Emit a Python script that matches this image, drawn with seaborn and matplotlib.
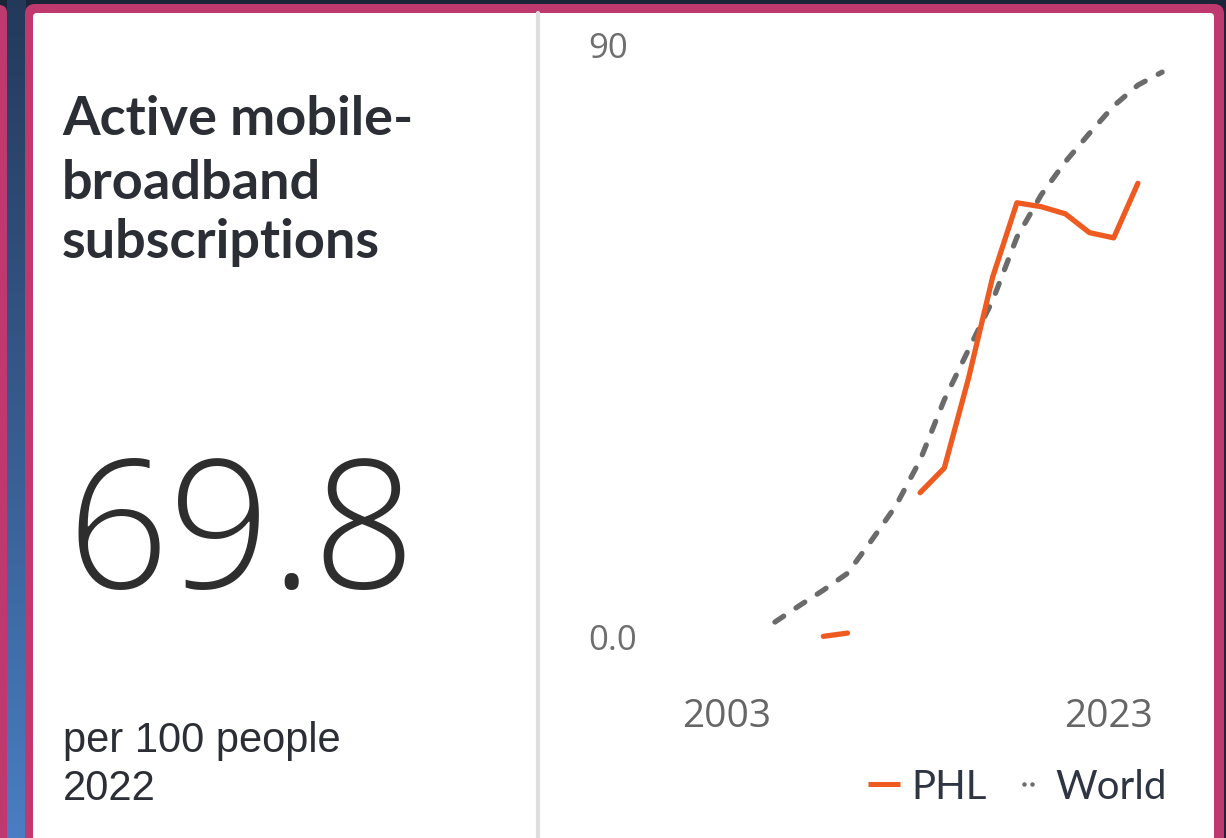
import matplotlib
matplotlib.use("Agg")
import matplotlib.pyplot as plt
import seaborn as sns
import pandas as pd
import numpy as np
from matplotlib.patches import FancyBboxPatch
from matplotlib.lines import Line2D
from matplotlib.legend_handler import HandlerLine2D
from matplotlib.colors import LinearSegmentedColormap
from matplotlib.transforms import ScaledTranslation

sns.set_style("white")
plt.rcParams['font.family'] = ['Lato', 'DejaVu Sans']

# data (per 100 people)
years = list(range(2007, 2024))
world = [2.3, 4.8, 7.2, 9.8, 14.9, 20.2, 27.2, 36.5, 44.2, 51.8,
         61.5, 68.0, 73.1, 77.5, 81.7, 84.9, 86.9]
phl = [np.nan, np.nan, 0.1, 0.6, np.nan, np.nan, 22.2, 26.0, 39.8, 55.4,
       66.8, 66.2, 65.1, 62.2, 61.4, 69.8, np.nan]

x_tick_labels = ["2003", "2023"]
y_tick_labels = ["0.0", "90"]
y_ticks = [0, 90]

title_lines = ["Active mobile-", "broadband", "subscriptions"]
big_value = "69.8"
unit_lines = ["per 100 people", "2022"]

ORANGE = "#ee5a1f"
GRAY = "#6b6b6b"
PINK = "#c0396e"
TEXT = "#2b2e34"

df = pd.DataFrame({"year": years, "World": world, "PHL": phl})
# split PHL into unbroken runs so the gap stays a gap
df["seg"] = df["PHL"].isna().cumsum()

W, H = 1226, 838
fig = plt.figure(figsize=(W / 100, H / 100), dpi=100)
fig.patch.set_facecolor("#1b2538")

# background layer in pixel coordinates
bg = fig.add_axes([0, 0, 1, 1], zorder=0)
bg.set_xlim(0, W)
bg.set_ylim(H, 0)
bg.axis("off")

grad = LinearSegmentedColormap.from_list("strip", ["#24395a", "#4a7dc2"])
bg.imshow(np.linspace(0, 1, 256).reshape(-1, 1), cmap=grad,
          extent=(7, 26, H, 0), aspect="auto", zorder=0)
bg.add_patch(FancyBboxPatch((-20, 5), 27, 900, boxstyle="round,pad=0,rounding_size=8",
                            fc=PINK, ec="none", zorder=1))
bg.add_patch(FancyBboxPatch((25, 4), 1199, 900, boxstyle="round,pad=0,rounding_size=10",
                            fc=PINK, ec="none", zorder=1))
bg.add_patch(FancyBboxPatch((33, 13), 1181, 900, boxstyle="round,pad=0,rounding_size=4",
                            fc="white", ec="none", zorder=2))
bg.plot([538, 538], [13, H], color="#dedede", lw=3, zorder=3)

# left panel text
for txt, yb in zip(title_lines, [135, 199, 258]):
    bg.text(62, yb, txt, fontsize=39, fontweight="bold", color=TEXT,
            va="baseline", ha="left", zorder=4)
bg.text(66, 588, big_value, fontsize=129, fontweight=300, color="#2e2e2e",
        family=["Open Sans", "DejaVu Sans"], va="baseline", ha="left", zorder=4)
for txt, yb in zip(unit_lines, [752, 800]):
    bg.text(63, yb, txt, fontsize=30, color=TEXT,
            family=["Liberation Sans", "DejaVu Sans"], va="baseline", ha="left", zorder=4)

# chart
ax = fig.add_axes([660 / W, 1 - 660 / H, 520 / W, 630 / H], zorder=1)
ax.set_facecolor("none")

sns.lineplot(data=df, x="year", y="World", ax=ax, color=GRAY, linewidth=3.8,
             linestyle=(0, (2.0, 2.8)), dash_capstyle="round", legend=False)
for _, part in df.dropna(subset=["PHL"]).groupby("seg"):
    sns.lineplot(data=part, x="year", y="PHL", ax=ax, color=ORANGE, linewidth=3.8,
                 solid_capstyle="round", solid_joinstyle="round", legend=False)

ax.set_xlim(2002.25, 2023.74)
ax.set_ylim(-3.54, 93.38)
sns.despine(ax=ax, left=True, bottom=True)
ax.grid(False)
ax.set_xlabel("")
ax.set_ylabel("")

ax.set_xticks([2005.02, 2020.8])
ax.set_xticklabels(x_tick_labels, fontsize=28, color="#666666", family="Open Sans")
ax.tick_params(axis="x", length=0, pad=27)
ax.set_yticks(y_ticks)
ax.set_yticklabels(y_tick_labels, fontsize=25, color="#6e6e6e", family="Open Sans")
ax.tick_params(axis="y", length=0, pad=51.8)
for lab in ax.get_yticklabels():
    lab.set_horizontalalignment("left")
# top label sits a little above its value line in the original
top_lab = ax.get_yticklabels()[1]
top_lab.set_transform(top_lab.get_transform() + ScaledTranslation(0, 0.07, fig.dpi_scale_trans))

phl_h = Line2D([0], [0], color=ORANGE, lw=3.6, solid_capstyle="butt")
world_h = Line2D([0], [0], color=GRAY, lw=0, marker="o", markersize=3.2,
                 markeredgewidth=0)
ax.legend(handles=[phl_h, world_h], labels=["PHL", "World"], ncol=2,
          loc="center right", bbox_to_anchor=(1167 / W, 1 - 787 / H),
          bbox_transform=fig.transFigure, frameon=False,
          handlelength=0.8, handletextpad=0.28, columnspacing=0.62,
          borderpad=0, borderaxespad=0,
          prop={"family": ["Lato", "DejaVu Sans"], "size": 29},
          labelcolor="#2f3542",
          handler_map={world_h: HandlerLine2D(numpoints=2)})

fig.savefig("out.png", dpi=100, facecolor=fig.get_facecolor())
